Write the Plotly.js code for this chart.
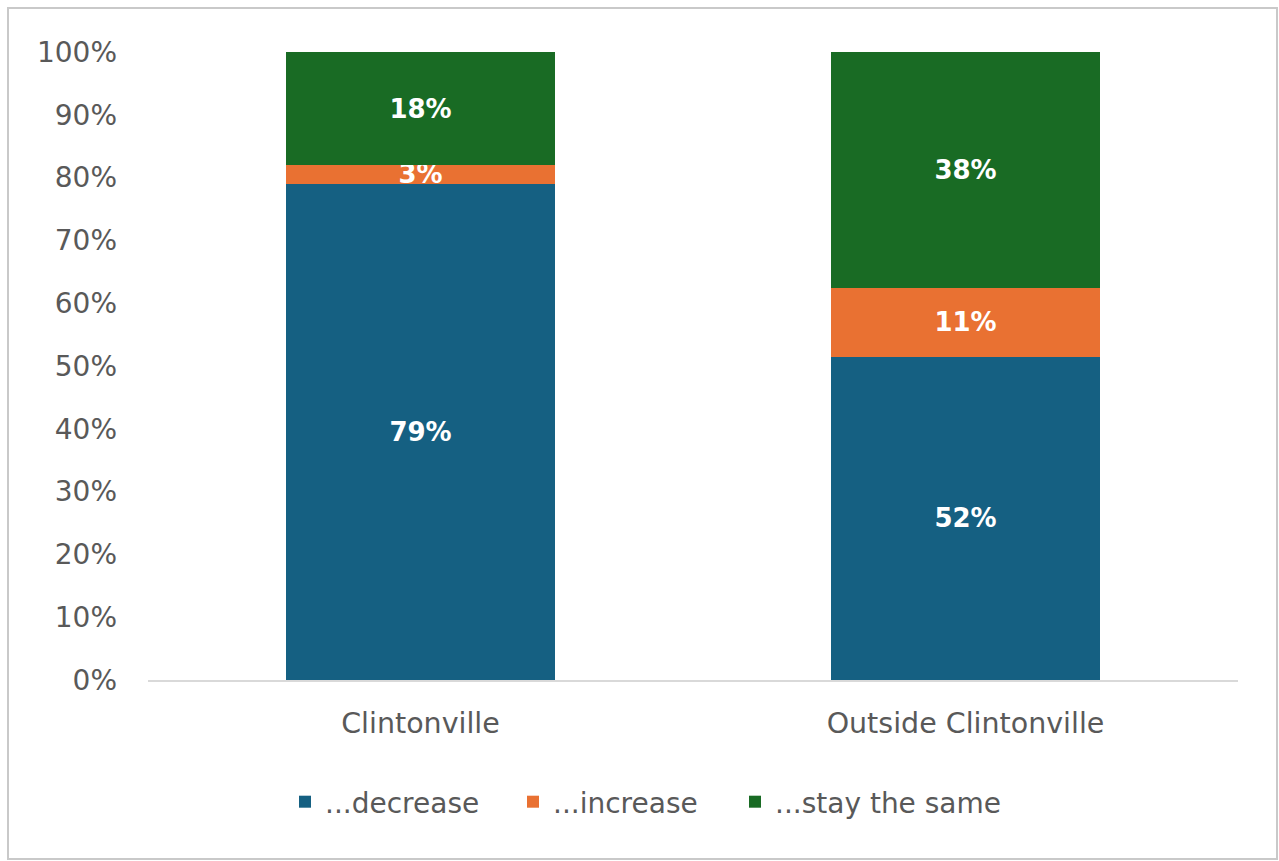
<!DOCTYPE html>
<html>
<head>
<meta charset="utf-8">
<script src="https://cdn.plot.ly/plotly-3.0.1.min.js"></script>
<style>
  html, body { margin: 0; padding: 0; background: #ffffff; }
  #chart { width: 1279px; height: 861px; }
</style>
</head>
<body>
<div id="chart"></div>
<script>
// Categories and series (percent values as labelled)
const categories = ['Clintonville', 'Outside Clintonville'];
const seriesNames = ['...decrease', '...increase', '...stay the same'];
const decreaseVals = [79, 52];
const increaseVals = [3, 11];
const sameVals = [18, 38];
const yTickVals = [0, 10, 20, 30, 40, 50, 60, 70, 80, 90, 100];

const colors = ['#156082', '#E97132', '#196B24'];
const seriesVals = [decreaseVals, increaseVals, sameVals];
const legendIds = ['legend', 'legend2', 'legend3'];

const FONT = 'DejaVu Sans, Liberation Sans, Arial, sans-serif';

const traces = seriesVals.map((vals, i) => ({
  type: 'bar',
  name: seriesNames[i],
  legend: legendIds[i],
  x: categories,
  y: vals,
  text: vals.map(v => v + '%'),
  textposition: 'inside',
  insidetextanchor: 'middle',
  textangle: 0,
  textfont: { family: FONT, size: 26, color: '#ffffff', weight: 'bold' },
  marker: { color: colors[i], line: { width: 0 } },
  hoverinfo: 'skip'
}));

const W = 1279, H = 861;
const L = 148, R = 41, T = 52, B = 181;
const pw = W - L - R, ph = H - T - B;
const px = x => (x - L) / pw;
const py = y => (H - B - y) / ph;

const legendX = [285, 513, 735];
function legendCfg(xpx) {
  return {
    orientation: 'h',
    xref: 'container',
    yref: 'container',
    x: xpx / W,
    xanchor: 'left',
    y: (H - 802) / H,
    yanchor: 'middle',
    font: { family: FONT, size: 28, color: '#595959' },
    itemclick: false,
    itemdoubleclick: false,
    bgcolor: 'rgba(0,0,0,0)'
  };
}

const layout = {
  width: W,
  height: H,
  margin: { l: L, r: R, t: T, b: B, pad: 0 },
  paper_bgcolor: '#ffffff',
  plot_bgcolor: '#ffffff',
  barmode: 'stack',
  barnorm: 'percent',
  bargap: 0.507,
  font: { family: FONT, color: '#595959', size: 26 },
  uniformtext: { minsize: 26, mode: 'show' },
  xaxis: {
    type: 'category',
    showgrid: false,
    zeroline: false,
    showline: true,
    linecolor: '#d9d9d9',
    linewidth: 2,
    ticks: '',
    ticklabelstandoff: 17,
    tickfont: { family: FONT, size: 28.5, color: '#595959' },
    fixedrange: true
  },
  yaxis: {
    range: [0, 100],
    tickvals: yTickVals,
    ticktext: yTickVals.map(v => v + '%'),
    showgrid: false,
    zeroline: false,
    showline: false,
    ticks: '',
    ticklabelstandoff: 30,
    tickfont: { family: FONT, size: 28, color: '#595959' },
    fixedrange: true
  },
  showlegend: true,
  legend: legendCfg(legendX[0]),
  legend2: legendCfg(legendX[1]),
  legend3: legendCfg(legendX[2]),
  shapes: [{
    type: 'rect',
    xref: 'paper', yref: 'paper',
    x0: px(8), x1: px(1277),
    y0: py(859), y1: py(8),
    line: { color: '#c9c9c9', width: 2 },
    fillcolor: 'rgba(0,0,0,0)',
    layer: 'below'
  }]
};

Plotly.newPlot('chart', traces, layout, { displayModeBar: false, staticPlot: true });
</script>
</body>
</html>
